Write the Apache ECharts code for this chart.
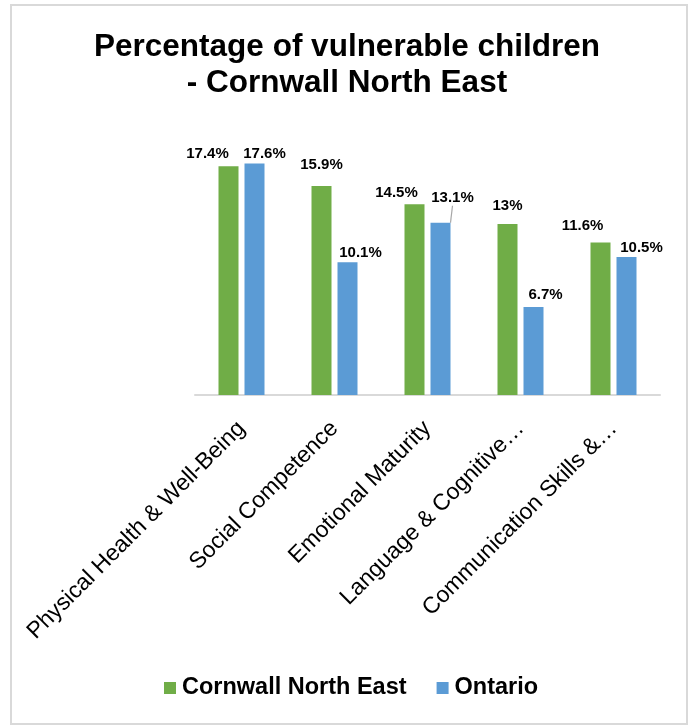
<!DOCTYPE html>
<html>
<head>
<meta charset="utf-8">
<script src="https://cdn.jsdelivr.net/npm/echarts@6/dist/echarts.min.js"></script>
<style>
html,body{margin:0;padding:0;background:#fff;}
#chart{width:694px;height:727px;}
</style>
</head>
<body>
<div id="chart"></div>
<script>
var categories = ["Physical Health & Well-Being", "Social Competence", "Emotional Maturity", "Language & Cognitive\u2026", "Communication Skills &\u2026"];
var seriesNames = ["Cornwall North East", "Ontario"];
var cornwallValues = [17.4, 15.9, 14.5, 13, 11.6];
var ontarioValues = [17.6, 10.1, 13.1, 6.7, 10.5];

// label layout shifts (style only)
var cornwallShiftX = [-21, 0, -18, 0, -18];
var cornwallShiftY = [-5, -14, -4, -11, -9];
var ontarioShiftX = [10, 13, 12, 12, 15];
var ontarioShiftY = [-2, -2, -17, -5, -2];
var leaderLine = [false, false, true, false, false];

var FONT = "'Liberation Sans', Arial, sans-serif";

function buildData(vals, withLine) {
  return vals.map(function (v, i) {
    var item = { value: v };
    if (withLine && leaderLine[i]) {
      item.labelLine = { show: true, lineStyle: { color: '#A6A6A6', width: 1.2 } };
    }
    return item;
  });
}

function makeLayout(sx, sy) {
  return function (params) {
    return { dx: sx[params.dataIndex], dy: sy[params.dataIndex] };
  };
}

var chart = echarts.init(document.getElementById('chart'), null, { renderer: 'canvas' });
var labelStyle = {
  show: true,
  position: 'top',
  distance: 0,
  formatter: function (p) { return p.value + '%'; },
  fontFamily: FONT,
  fontWeight: 'bold',
  fontSize: 15,
  color: '#000'
};

chart.setOption({
  animation: false,
  backgroundColor: '#fff',
  title: {
    text: 'Percentage of vulnerable children\n- Cornwall North East',
    left: 'center',
    top: 24,
    textStyle: {
      fontFamily: FONT,
      fontWeight: 'bold',
      fontSize: 31.5,
      lineHeight: 36,
      color: '#000'
    }
  },
  legend: {
    data: seriesNames,
    bottom: 22,
    left: 159,
    itemWidth: 12,
    itemHeight: 12,
    itemGap: 30,
    icon: 'rect',
    textStyle: { fontFamily: FONT, fontWeight: 'bold', fontSize: 23.5, color: '#000', padding: [0, 0, 0, 1] }
  },
  graphic: [{
    type: 'rect',
    shape: { x: 11, y: 5, width: 676, height: 719 },
    style: { fill: 'none', stroke: '#D9D9D9', lineWidth: 2 },
    silent: true
  }],
  grid: { left: 195, right: 34, top: 132, bottom: 332, containLabel: false },
  xAxis: {
    type: 'category',
    data: categories,
    axisLine: { show: true, lineStyle: { color: '#D9D9D9', width: 2 } },
    axisTick: { show: false },
    axisLabel: {
      rotate: 45,
      interval: 0,
      margin: 30,
      fontFamily: FONT,
      fontSize: 23,
      color: '#000'
    }
  },
  yAxis: {
    type: 'value',
    min: 0,
    max: 20,
    show: false,
    splitLine: { show: false }
  },
  series: [
    {
      name: seriesNames[0],
      type: 'bar',
      data: buildData(cornwallValues, false),
      barWidth: 20,
      barGap: '30%',
      itemStyle: { color: '#70AD47' },
      label: labelStyle,
      labelLayout: makeLayout(cornwallShiftX, cornwallShiftY)
    },
    {
      name: seriesNames[1],
      type: 'bar',
      data: buildData(ontarioValues, true),
      barWidth: 20,
      barGap: '30%',
      itemStyle: { color: '#5B9BD5' },
      label: labelStyle,
      labelLine: { show: false },
      labelLayout: makeLayout(ontarioShiftX, ontarioShiftY)
    }
  ]
});
</script>
</body>
</html>
